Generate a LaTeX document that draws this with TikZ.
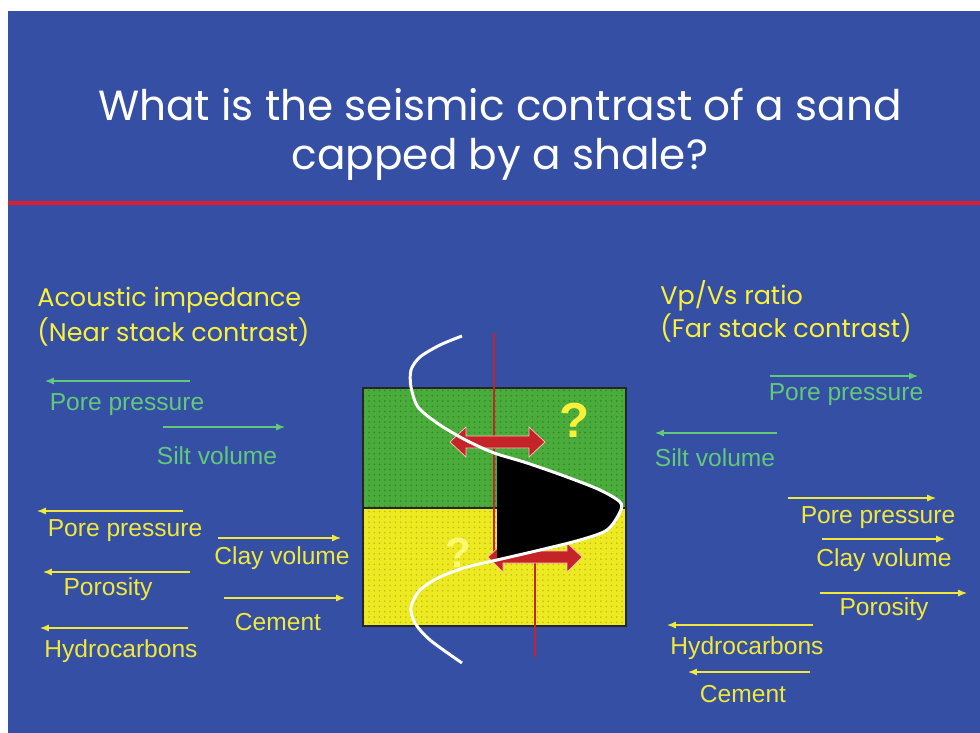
\documentclass[tikz,border=0pt]{standalone}
\usepackage{fontspec}
\setmainfont{Liberation Sans}
\newfontfamily\titlefont{Poppins}
\usetikzlibrary{arrows.meta,patterns}
\definecolor{slideblue}{RGB}{52,79,163}
\definecolor{rulered}{RGB}{222,28,52}
\definecolor{labgreen}{RGB}{98,200,124}
\definecolor{labyellow}{RGB}{240,232,60}
\definecolor{headyellow}{RGB}{250,240,60}
\definecolor{shalegreen}{RGB}{74,172,58}
\definecolor{sandyellow}{RGB}{238,234,34}
\definecolor{wigglered}{RGB}{196,36,40}
\begin{document}
\begin{tikzpicture}[x=0.02cm, y=-0.02cm,
		lbl/.style={font=\fontsize{14}{16}\selectfont, inner sep=0pt},
		headtxt/.style={font=\titlefont\fontsize{14.5}{18}\selectfont, text=headyellow, anchor=west, inner sep=0pt},
		titletxt/.style={font=\titlefont\fontsize{24}{28}\selectfont, text=white, inner sep=0pt},
		thinarrow/.style={line width=0.7pt, -{Latex[length=5pt,width=4pt]}},
		bigarrow/.style={fill=wigglered, draw=red!25!white, line width=0.4pt}]
		% 底色：白边 + 蓝色幻灯片
		\useasboundingbox (0,0) rectangle (980,733);
		\fill[white] (0,0) rectangle (980,733);
		\fill[slideblue] (8,11) rectangle (980,733);

		% 标题与红色分隔线
		\node[titletxt] (title1) at (500,105) {What is the seismic contrast of a sand};
		\node[titletxt] (title2) at (500,159) {capped by a shale?};
		\coordinate (ruleL) at (8,203);
		\coordinate (ruleR) at (980,203);
		\draw[rulered, line width=2.2pt] (ruleL) -- (ruleR);

		% 左右两栏的小标题
		\node[headtxt] (aiA) at (37,300) {Acoustic impedance};
		\node[headtxt] (aiB) at (37,332) {(Near stack contrast)};
		\node[headtxt] (vpA) at (660,296) {Vp/Vs ratio};
		\node[headtxt] (vpB) at (660,328) {(Far stack contrast)};

		% 中间的页岩(上)/砂岩(下)方块
		\fill[shalegreen] (363,388) rectangle (626,508);
		\fill[pattern=dots, pattern color=shalegreen!75!black] (363,388) rectangle (626,508);
		\fill[sandyellow] (363,508) rectangle (626,626);
		\fill[pattern=dots, pattern color=sandyellow!80!black] (363,508) rectangle (626,626);
		\draw[black!85, line width=0.6pt] (363,388) rectangle (626,626);
		\draw[black!85, line width=0.6pt] (363,508) -- (626,508);

		% 红色竖线（井轴）
		\draw[wigglered, line width=1.2pt] (494,333) -- (494,560);
		\draw[wigglered, line width=1.2pt] (535,563) -- (535,657);

		% 红色双向箭头
		\fill[bigarrow] (450,442) -- (466,427) -- (466,436) -- (529,436) -- (529,427) -- (545,442)
			-- (529,457) -- (529,448) -- (466,448) -- (466,457) -- cycle;
		\fill[bigarrow] (488,557) -- (503,543) -- (503,551) -- (567,551) -- (567,543) -- (582,557)
			-- (567,572) -- (567,563) -- (503,563) -- (503,572) -- cycle;

		% 问号
		\node[font=\bfseries\fontsize{28}{30}\selectfont, text=headyellow, inner sep=0pt] (qA) at (575,420) {?};
		\node[font=\bfseries\fontsize{24}{26}\selectfont, text=yellow!55!white, inner sep=0pt] (qB) at (458,553) {?};

		% 地震子波：黑色正波峰 + 白色曲线
		\fill[black] plot[smooth] coordinates {(497,454) (527,463) (567,477) (600,490) (620,502)
			(620,512) (607,530) (580,540) (540,550) (497,560)} -- cycle;
		\draw[white, line width=1.7pt] plot[smooth] coordinates {(462,336) (440,345) (420,357) (411,370)
			(411,387) (418,407) (437,423) (460,437) (480,447) (497,454) (527,463) (567,477) (600,490)
			(620,502) (620,512) (607,530) (580,540) (540,550) (497,560) (467,567) (440,577) (420,590)
			(411,607) (415,623) (430,640) (462,663)};

		% 各因素的箭头与文字：名/起点x/终点x/y/文字x/文字y/颜色/文字
		\foreach \n/\xa/\xb/\ya/\xl/\yl/\col/\txt in {
			a/190/45/381/127/405/labgreen/Pore pressure,
			b/163/285/427/217/456/labgreen/Silt volume,
			c/183/37/511/125/531/labyellow/Pore pressure,
			d/218/341/538/282/558/labyellow/Clay volume,
			e/190/43/572/108/589/labyellow/Porosity,
			f/224/345/598/278/622/labyellow/Cement,
			g/188/40/628/121/651/labyellow/Hydrocarbons,
			h/770/918/376/846/395/labgreen/Pore pressure,
			i/777/655/433/715/458/labgreen/Silt volume,
			j/788/936/498/878/518/labyellow/Pore pressure,
			k/822/945/539/884/560/labyellow/Clay volume,
			l/820/967/593/884/609/labyellow/Porosity,
			m/813/667/625/747/648/labyellow/Hydrocarbons,
			o/810/688/672/743/694/labyellow/Cement}
		{
			\coordinate (s\n) at (\xa,\ya);
			\coordinate (e\n) at (\xb,\ya);
			\draw[thinarrow, \col] (s\n) -- (e\n);
			\node[lbl, text=\col] (l\n) at (\xl,\yl) {\txt};
		}
	\end{tikzpicture}
\end{document}
